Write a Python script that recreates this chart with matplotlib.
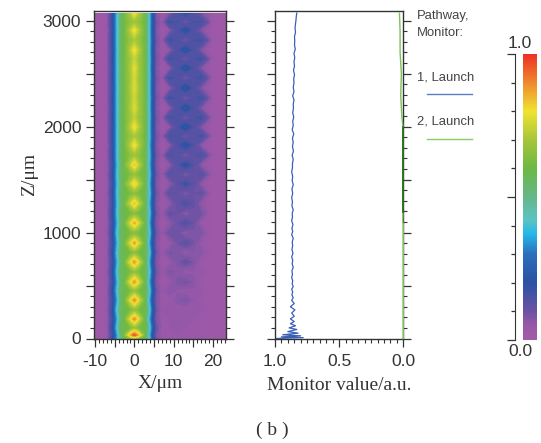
import numpy as np
from matplotlib import pyplot as plt
from matplotlib.colors import LinearSegmentedColormap
from matplotlib.ticker import FixedLocator

W, H = 541, 443

# field map
x_um = [-10.4, -7, -5.5, -4.5, -3.5, -2.5, -1, 0, 1, 2.5, 3.5, 4.5, 5.5, 7, 9, 11, 13, 15, 17, 20, 23.3]
z_um = [0, 33, 100, 184, 270, 363, 450, 533, 630, 722, 810, 901, 995, 1090, 1180, 1275, 1370, 1460,
        1550, 1637, 1730, 1825, 1910, 1995, 2085, 2174, 2270, 2363, 2460, 2552, 2640, 2722, 2815, 2910, 2985, 3070]
field = [
    [.03, .04, .17, .33, .50, .60, .66, .70, .66, .60, .46, .24, .09, .05, .04, .04, .04, .04, .04, .03, .03],
    [.03, .04, .16, .32, .52, .63, .84, .96, .84, .63, .44, .20, .08, .05, .05, .05, .05, .04, .04, .03, .03],
    [.03, .04, .18, .38, .56, .59, .62, .66, .62, .59, .50, .26, .10, .05, .05, .06, .05, .05, .05, .03, .03],
    [.03, .04, .16, .33, .52, .61, .77, .89, .77, .61, .42, .20, .08, .05, .05, .06, .06, .05, .04, .03, .03],
    [.03, .04, .18, .39, .55, .58, .62, .65, .62, .58, .49, .25, .09, .05, .06, .05, .05, .06, .05, .03, .03],
    [.03, .04, .16, .33, .52, .61, .77, .89, .77, .61, .42, .20, .08, .05, .05, .07, .08, .06, .04, .03, .03],
    [.03, .04, .18, .38, .55, .58, .62, .65, .62, .58, .48, .25, .09, .05, .07, .06, .05, .06, .05, .03, .03],
    [.03, .04, .16, .34, .52, .61, .77, .88, .77, .61, .42, .20, .08, .04, .05, .08, .09, .07, .04, .03, .03],
    [.03, .04, .18, .38, .55, .58, .62, .65, .62, .58, .48, .24, .09, .05, .08, .07, .05, .06, .06, .03, .03],
    [.03, .04, .16, .34, .52, .61, .77, .88, .77, .61, .42, .20, .08, .04, .05, .08, .11, .08, .04, .03, .03],
    [.03, .04, .18, .38, .55, .58, .61, .64, .61, .58, .48, .24, .09, .05, .09, .08, .05, .07, .07, .03, .03],
    [.03, .04, .16, .34, .52, .61, .76, .87, .76, .61, .42, .20, .08, .04, .05, .09, .12, .09, .05, .03, .03],
    [.03, .04, .18, .38, .54, .58, .61, .63, .61, .58, .48, .24, .09, .05, .10, .09, .06, .08, .08, .03, .03],
    [.03, .04, .16, .34, .52, .61, .76, .86, .76, .61, .43, .20, .08, .04, .06, .10, .14, .10, .05, .03, .03],
    [.03, .04, .18, .37, .54, .58, .61, .63, .61, .58, .47, .24, .09, .05, .11, .10, .06, .09, .09, .03, .03],
    [.03, .04, .16, .35, .52, .61, .74, .84, .74, .61, .43, .21, .08, .04, .06, .11, .15, .11, .06, .03, .03],
    [.03, .04, .18, .37, .54, .58, .62, .64, .62, .58, .47, .24, .09, .05, .12, .11, .07, .10, .11, .03, .03],
    [.03, .04, .16, .35, .52, .61, .73, .82, .73, .61, .44, .21, .08, .04, .06, .12, .17, .12, .06, .03, .03],
    [.03, .04, .18, .37, .54, .59, .63, .66, .63, .59, .47, .24, .09, .05, .13, .12, .07, .11, .13, .04, .03],
    [.03, .04, .16, .35, .52, .61, .73, .83, .73, .61, .44, .21, .08, .04, .06, .13, .20, .13, .06, .03, .03],
    [.03, .04, .18, .37, .54, .60, .65, .68, .65, .60, .46, .23, .09, .05, .15, .13, .07, .12, .15, .04, .03],
    [.03, .04, .17, .36, .53, .61, .72, .80, .72, .61, .44, .21, .08, .04, .06, .14, .21, .14, .06, .03, .03],
    [.03, .04, .18, .37, .54, .61, .67, .70, .67, .61, .46, .23, .09, .05, .16, .14, .08, .13, .16, .04, .03],
    [.03, .04, .17, .36, .53, .61, .72, .80, .72, .61, .45, .22, .08, .04, .06, .14, .22, .14, .07, .03, .03],
    [.03, .04, .18, .37, .54, .61, .68, .73, .68, .61, .46, .23, .09, .05, .16, .14, .08, .14, .17, .04, .03],
    [.03, .04, .17, .36, .53, .61, .70, .77, .70, .61, .45, .22, .08, .04, .06, .14, .22, .14, .07, .03, .03],
    [.03, .04, .18, .37, .54, .61, .69, .75, .69, .61, .46, .23, .09, .05, .17, .14, .08, .14, .17, .04, .03],
    [.03, .04, .17, .36, .53, .61, .70, .77, .70, .61, .45, .22, .08, .04, .06, .14, .22, .14, .07, .03, .03],
    [.03, .04, .18, .37, .54, .61, .69, .76, .69, .61, .46, .23, .09, .05, .17, .14, .08, .14, .17, .04, .03],
    [.03, .04, .17, .36, .53, .61, .70, .78, .70, .61, .45, .22, .08, .04, .06, .14, .22, .14, .07, .03, .03],
    [.03, .04, .18, .37, .54, .61, .69, .74, .69, .61, .46, .23, .09, .05, .17, .14, .08, .14, .17, .04, .03],
    [.03, .04, .17, .36, .53, .61, .72, .80, .72, .61, .45, .22, .08, .04, .06, .14, .22, .14, .07, .03, .03],
    [.03, .04, .18, .37, .54, .61, .67, .70, .67, .61, .46, .23, .09, .05, .17, .14, .08, .15, .17, .04, .03],
    [.03, .04, .17, .36, .53, .61, .72, .80, .72, .61, .45, .22, .08, .04, .06, .14, .21, .14, .07, .03, .03],
    [.03, .04, .18, .37, .54, .61, .66, .68, .66, .61, .46, .23, .09, .05, .17, .15, .08, .15, .16, .04, .03],
    [.03, .04, .17, .36, .53, .61, .71, .80, .71, .61, .45, .22, .08, .04, .07, .14, .19, .14, .08, .03, .03],
]

# monitor curves
z_blue = [0, 8, 15, 25, 35, 50, 65, 85, 100, 120, 140, 160, 185, 210, 240, 270, 300, 330, 360, 385, 410, 440, 465, 490,
          515, 545, 575, 605, 640, 670, 705, 740, 770, 805, 840, 875, 910, 945, 980, 1010, 1040, 1075, 1110, 1145, 1180,
          1215, 1250, 1290, 1330, 1370, 1410, 1450, 1490, 1530, 1570, 1610, 1650, 1690, 1730, 1770, 1810, 1850, 1890,
          1930, 1970, 2010, 2050, 2090, 2130, 2170, 2210, 2250, 2290, 2330, 2370, 2410, 2450, 2490, 2530, 2570, 2610,
          2650, 2690, 2730, 2770, 2810, 2850, 2890, 2930, 2970, 3010, 3040, 3070]
mon_blue = [1.0, .78, .95, .80, .94, .82, .90, .83, .89, .84, .88, .85, .88, .85, .87, .845, .88, .85, .87, .858, .868, .862,
            .87, .858, .866, .862, .87, .864, .868, .858, .866, .862, .87, .86, .868, .862, .866, .858, .87, .862,
            .868, .86, .87, .864, .866, .858, .868, .864, .87, .862, .868, .858, .866, .862, .87, .864, .864,
            .858, .866, .856, .864, .858, .864, .854, .866, .858, .862, .854, .862, .856, .858, .852, .862, .852, .858, .852,
            .854, .848, .856, .848, .852, .846, .852, .842, .848, .846, .848, .84, .844, .84, .836, .834, .83]
z_green = [0, 1080, 1100, 1190, 1500, 2000, 2100, 2300, 2500, 2700, 2900, 3070]
mon_green = [.0, .0, .004, .003, .003, .003, .012, .02, .015, .025, .025, .03]
green_dark_z = [1190, 2000]

cbar_ticks = [0, .1, .2, .3, .4, .5, .6, .7, .8, .9, 1.0]
z_major = [0, 500, 1000, 1500, 2000, 2500, 3000]
z_labels = ['0', '', '1000', '', '2000', '', '3000']
x_major = [-10, -5, 0, 5, 10, 15, 20]
x_labels = ['-10', '', '0', '', '10', '', '20']
mon_major = [0, .5, 1.0]
mon_labels = ['0.0', '0.5', '1.0']

cmap = LinearSegmentedColormap.from_list('rsoft', [
    (0.0, '#a35ba6'), (.05, '#9a58a8'), (.1, '#6a52a4'), (.2, '#2b52a3'), (.3, '#2a70bd'), (.37, '#25b8e8'), (.42, '#5cc3c4'),
    (.5, '#66b78a'), (.6, '#6cb944'), (.7, '#a6c63a'), (.8, '#efe431'), (.9, '#f08a2d'), (1.0, '#ee3124')])

plt.rcParams['font.family'] = ['Liberation Sans', 'DejaVu Sans']
ink = '#333333'


def px_axes(x0, y0, x1, y1):
    # pixel box in image coords (y down)
    return fig.add_axes([x0 / W, 1 - y1 / H, (x1 - x0) / W, (y1 - y0) / H])


def style_ticks(ax):
    ax.tick_params(which='major', length=5.8, width=0.9, color=ink, labelcolor=ink, labelsize=12.5, pad=3)
    ax.tick_params(axis='x', which='major', pad=5)
    ax.tick_params(which='minor', length=3, width=0.8, color=ink)
    for s in ax.spines.values():
        s.set_color(ink)
        s.set_linewidth(1.0)


fig = plt.figure(figsize=(W / 100, H / 100), dpi=100)

ax = px_axes(93.5, 11, 226, 338.5)
ax.contourf(x_um, z_um, np.array(field), levels=np.linspace(0, 1, 81), cmap=cmap)
ax.set_xlim(-10.4, 23.3)
ax.set_ylim(0, 3090)
ax.yaxis.set_major_locator(FixedLocator(z_major))
ax.set_yticklabels(z_labels)
ax.yaxis.set_minor_locator(FixedLocator(np.arange(0, 3100, 100)))
ax.xaxis.set_major_locator(FixedLocator(x_major))
ax.set_xticklabels(x_labels)
ax.xaxis.set_minor_locator(FixedLocator(np.arange(-10, 24, 1)))
ax.tick_params(axis='y', which='both', right=True)
style_ticks(ax)
ax.set_xlabel('X/μm', family='Liberation Serif', fontsize=14, color=ink, labelpad=5)
ax.set_ylabel('Z/μm', family='Liberation Serif', fontsize=14, color=ink, labelpad=3)

ax2 = px_axes(275, 11, 403.3, 338.5)
ax2.plot(mon_blue, z_blue, color='#3a5fb8', lw=0.9)
ax2.plot(mon_green, z_green, color='#7cc05a', lw=1.0, zorder=5, clip_on=False)
ax2.plot([0, 0], green_dark_z, color='#1f6b12', lw=1.2, zorder=6, clip_on=False)
ax2.set_xlim(1.0, 0.0)
ax2.set_ylim(0, 3090)
ax2.yaxis.set_major_locator(FixedLocator(z_major))
ax2.set_yticklabels([])
ax2.yaxis.set_minor_locator(FixedLocator(np.arange(0, 3100, 100)))
ax2.xaxis.set_major_locator(FixedLocator(mon_major))
ax2.set_xticklabels(mon_labels)
ax2.xaxis.set_minor_locator(FixedLocator(np.arange(0, 1.01, .05)))
ax2.tick_params(axis='y', which='both', right=True)
style_ticks(ax2)
ax2.set_xlabel('Monitor value/a.u.', family='Liberation Serif', fontsize=14, color=ink, labelpad=6)

# legend beside the monitor panel
for label, y in [('Pathway,', 16), ('Monitor:', 33), ('1, Launch', 78), ('2, Launch', 122)]:
    fig.text(417 / W, 1 - y / H, label, fontsize=9.4, color='#444444', va='center')
fig.add_artist(plt.Line2D([427 / W, 472 / W], [1 - 94 / H] * 2, color='#5b7cc8', lw=1.0))
fig.add_artist(plt.Line2D([427 / W, 472 / W], [1 - 139 / H] * 2, color='#8cc86c', lw=1.0))

# colour bar
cax = px_axes(523, 54, 537, 340)
cax.imshow(np.linspace(1, 0, 256).reshape(-1, 1), cmap=cmap, aspect='auto', extent=[0, 1, 0, 1])
cax.axis('off')
tax = px_axes(515, 54, 523, 340)
tax.set_ylim(0, 1)
tax.set_xticks([])
for s in ['top', 'bottom', 'right']:
    tax.spines[s].set_visible(False)
tax.spines['left'].set_color(ink)
tax.yaxis.set_major_locator(FixedLocator([0, .5, 1.0]))
tax.yaxis.set_minor_locator(FixedLocator(cbar_ticks))
tax.set_yticklabels([])
tax.tick_params(which='major', length=6, width=0.9, color=ink)
tax.tick_params(which='minor', length=3, width=0.9, color=ink)
fig.text(520 / W, 1 - 43 / H, '1.0', fontsize=12.5, color=ink, ha='center', va='center')
fig.text(520 / W, 1 - 352 / H, '0.0', fontsize=12.5, color=ink, ha='center', va='center')

fig.text(272 / W, 1 - 430 / H, '( b )', family='Liberation Serif', fontsize=14, color=ink, ha='center', va='center')

fig.savefig('out.png', dpi=100)
